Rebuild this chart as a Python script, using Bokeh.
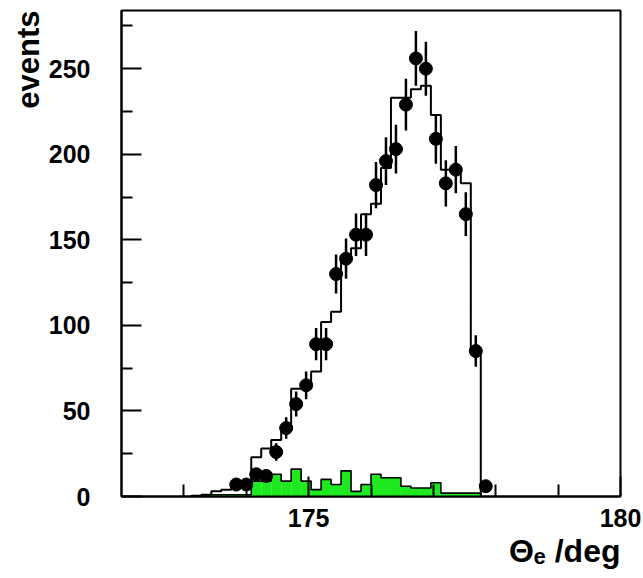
from bokeh.plotting import figure
from bokeh.models import FixedTicker, Title
from bokeh.embed import file_html
from bokeh.resources import INLINE

# ---------------- data ----------------
x_lo, x_hi = 172.0, 180.0
y_lo, y_hi = 0.0, 284.0
bin_width = 0.16

# simulated (MC) distribution, bins starting at index mc_first_bin
mc_first_bin = 7
mc_values = [0.5, 1, 3, 4, 8, 8,
             23, 28, 33, 39,
             63, 63, 73, 102, 108,
             139, 145, 165, 171, 192,
             233, 233, 238, 240, 223,
             191, 191, 183, 85]

# background (green) distribution
bg_first_bin = 8
bg_values = [1, 1, 1, 1, 1,
             9, 9, 13, 9, 16, 9, 4, 10, 7, 15, 3, 7, 13, 11, 11,
             6, 5, 5, 8,
             2, 2, 2, 2]

# measured events with errors
data_first_bin = 11
data_values = [7, 7, 13, 12, 26, 40, 54, 65, 89, 89,
               130, 139, 153, 153, 182, 196, 203, 229, 256, 250,
               209, 183, 191, 165, 85, 6]
data_errors = [2.6, 2.6, 3.6, 3.5, 5.1, 6.3, 7.3, 8.1, 9.4, 9.4,
               11.4, 11.8, 12.4, 12.4, 13.5, 14.0, 14.2, 15.1, 16.0, 15.8,
               14.5, 13.5, 13.8, 12.8, 9.2, 2.4]

x_major = [175, 180]
x_minor = [173, 174, 176, 177, 178, 179]
y_major = [0, 50, 100, 150, 200, 250]
y_minor = [25, 75, 125, 175, 225, 275]

x_title = "\u0398\u2091 /deg"
y_title = "events"


def edges_for(first, n):
    left = [x_lo + bin_width * (first + i) for i in range(n)]
    right = [l + bin_width for l in left]
    return left, right


def stairs(first, vals):
    left, right = edges_for(first, len(vals))
    xs, ys = [left[0]], [0]
    for l, r, v in zip(left, right, vals):
        xs += [l, r]
        ys += [v, v]
    xs.append(right[-1])
    ys.append(0)
    return xs, ys


# ---------------- figure ----------------
p = figure(width=643, height=578, output_backend="svg", toolbar_location=None,
           x_range=(x_lo, x_hi), y_range=(y_lo, y_hi),
           min_border_left=121, min_border_right=23,
           min_border_top=10, min_border_bottom=82)
p.grid.visible = False
p.background_fill_color = "white"
p.border_fill_color = "white"
p.outline_line_color = "black"
p.outline_line_width = 2

# background histogram
bl, br = edges_for(bg_first_bin, len(bg_values))
p.quad(left=bl, right=br, bottom=0, top=bg_values,
       fill_color="#1ee81e", line_color=None)
bx, by = stairs(bg_first_bin, bg_values)
p.line(bx, by, line_color="black", line_width=1.6)

# MC histogram
mx, my = stairs(mc_first_bin, mc_values)
p.line(mx, my, line_color="black", line_width=2)

# data points
dl, dr = edges_for(data_first_bin, len(data_values))
dc = [(a + b) / 2 for a, b in zip(dl, dr)]
p.segment(x0=dc, x1=dc,
          y0=[v - e for v, e in zip(data_values, data_errors)],
          y1=[v + e for v, e in zip(data_values, data_errors)],
          line_color="black", line_width=2.5)
p.scatter(dc, data_values, size=13, marker="circle",
          fill_color="black", line_color="black")

# axes
FONT = "Liberation Sans"
for ax in (p.xaxis[0], p.yaxis[0]):
    ax.axis_line_width = 2
    ax.axis_line_color = "black"
    ax.major_tick_line_width = 2
    ax.minor_tick_line_width = 2
    ax.major_tick_out = 0
    ax.minor_tick_out = 0
    ax.major_label_text_font = FONT
    ax.major_label_text_font_style = "bold"
    ax.major_label_text_font_size = "25px"
    ax.major_label_text_color = "black"

p.xaxis.ticker = FixedTicker(ticks=x_major, minor_ticks=x_minor)
p.yaxis.ticker = FixedTicker(ticks=y_major, minor_ticks=y_minor)
p.xaxis.major_tick_in = 20
p.xaxis.minor_tick_in = 12
p.yaxis.major_tick_in = 20
p.yaxis.minor_tick_in = 11
p.xaxis.major_label_standoff = 12
p.yaxis.major_label_standoff = 31

# axis titles as side titles (right-aligned / top-aligned)
p.add_layout(Title(text=y_title, align="right", text_font=FONT,
                   text_font_style="bold", text_font_size="31px",
                   text_color="black", standoff=0, offset=0), "left")
p.add_layout(Title(text=x_title, align="right", text_font=FONT,
                   text_font_style="bold", text_font_size="32px",
                   text_color="black", standoff=2, offset=0), "below")

open("out.html", "w").write(file_html(p, INLINE))
